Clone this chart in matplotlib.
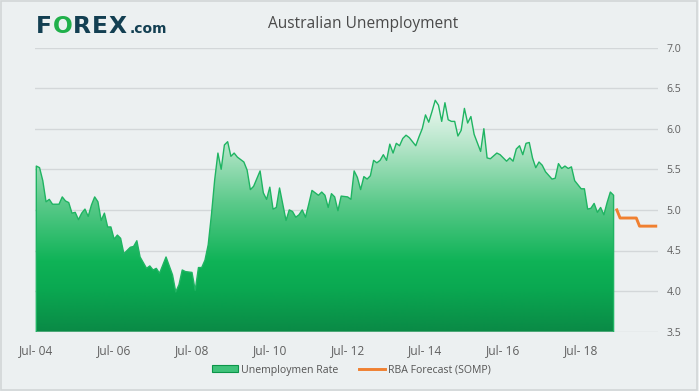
import numpy as np
import matplotlib
matplotlib.use("Agg")
import matplotlib.pyplot as plt
from matplotlib.colors import LinearSegmentedColormap
from matplotlib.patches import Patch, Rectangle
from matplotlib.lines import Line2D

# ---- data (months since Jul 2004) ----
months = [0, 1, 2, 3, 4, 5, 7, 8, 9, 10, 11, 12, 13, 14, 15, 16, 17, 18, 19, 20,
          21, 22, 23, 24, 25, 26, 27, 29, 30, 31, 32, 34, 35, 36, 37, 38, 40, 42, 43, 44,
          45, 46, 48, 49, 50, 51, 52, 53, 54, 55, 56, 57, 58, 59, 60, 61, 62, 64, 65, 66,
          67, 69, 70, 71, 72, 73, 74, 75, 77, 78, 79, 80, 81, 82, 83, 84, 85, 86, 87, 88,
          89, 90, 91, 92, 93, 94, 96, 97, 98, 99, 100, 101, 102, 103, 104, 105, 106, 107, 108, 109,
          110, 111, 112, 113, 114, 115, 117, 118, 119, 120, 121, 122, 123, 124, 125, 126, 127, 128, 129, 130,
          131, 132, 133, 134, 135, 137, 138, 139, 140, 142, 143, 144, 145, 146, 147, 148, 149, 150, 151, 152,
          153, 154, 155, 156, 157, 159, 160, 161, 162, 163, 164, 165, 166, 167, 168, 169, 170, 171, 172, 173,
          174, 175, 176, 177, 178]
unemployment = [5.54, 5.52, 5.36, 5.10, 5.13, 5.07, 5.07, 5.16, 5.11, 5.09, 4.96, 4.97, 4.88, 4.96, 5.01, 4.92, 5.06, 5.16, 5.10, 4.87,
                4.96, 4.79, 4.79, 4.64, 4.69, 4.65, 4.46, 4.54, 4.55, 4.62, 4.42, 4.28, 4.31, 4.26, 4.28, 4.22, 4.42, 4.20, 3.99, 4.08,
                4.26, 4.24, 4.23, 4.01, 4.29, 4.29, 4.38, 4.57, 4.94, 5.37, 5.70, 5.50, 5.80, 5.84, 5.66, 5.70, 5.65, 5.59, 5.49, 5.25,
                5.29, 5.48, 5.21, 5.13, 5.28, 5.01, 5.03, 5.27, 4.87, 5.00, 4.98, 4.91, 4.94, 5.00, 4.91, 5.07, 5.24, 5.21, 5.18, 5.22,
                5.18, 5.03, 5.20, 5.16, 4.99, 5.17, 5.16, 5.13, 5.48, 5.40, 5.25, 5.41, 5.38, 5.42, 5.61, 5.58, 5.61, 5.68, 5.61, 5.81,
                5.70, 5.82, 5.79, 5.88, 5.92, 5.89, 5.79, 5.90, 6.00, 6.17, 6.08, 6.21, 6.35, 6.29, 6.09, 6.32, 6.11, 6.09, 6.09, 5.91,
                5.98, 6.25, 6.07, 6.15, 5.93, 5.72, 6.00, 5.64, 5.63, 5.70, 5.68, 5.64, 5.60, 5.64, 5.60, 5.75, 5.79, 5.68, 5.82, 5.83,
                5.64, 5.52, 5.59, 5.55, 5.47, 5.38, 5.39, 5.57, 5.51, 5.54, 5.51, 5.53, 5.36, 5.31, 5.26, 5.26, 5.01, 5.02, 5.08, 4.97,
                5.03, 4.94, 5.09, 5.22, 5.18]

forecast_months = [179, 180, 181, 182, 183, 184, 185, 186, 187, 188, 189, 190, 191]
forecast_rate = [5.0, 4.9, 4.9, 4.9, 4.9, 4.9, 4.9, 4.8, 4.8, 4.8, 4.8, 4.8, 4.8]

tick_months = [0, 24, 48, 72, 96, 120, 144, 168]
tick_labels = ["Jul- 04", "Jul- 06", "Jul- 08", "Jul- 10", "Jul- 12", "Jul- 14", "Jul- 16", "Jul- 18"]
y_ticks = [3.5, 4.0, 4.5, 5.0, 5.5, 6.0, 6.5, 7.0]

title = "Australian Unemployment"
series_names = ["Unemploymen Rate", "RBA Forecast (SOMP)"]

# ---- style ----
BG = "#ecf0f1"
GRID = "#d3d7d9"
TXT = "#606060"
LINE_GREEN = "#1fb462"
ORANGE = "#f08030"
FONT = ["Open Sans", "DejaVu Sans"]

W, H = 699, 391
fig = plt.figure(figsize=(W / 100, H / 100), dpi=100, facecolor=BG)
ax = fig.add_axes([35.3 / W, (H - 331.7) / H, (657.7 - 35.3) / W, (331.7 - 47.5) / H])
ax.set_facecolor(BG)

XMIN, XMAX = -0.31, 191.6
YMIN, YMAX = 3.5, 7.0

# gridlines
ax.set_yticks(y_ticks)
ax.set_yticklabels([f"{v:.1f}" for v in y_ticks], fontfamily=FONT, fontsize=7.6, color=TXT)
ax.yaxis.grid(True, color=GRID, lw=1.0, zorder=0)
ax.set_axisbelow(True)
ax.yaxis.tick_right()
ax.tick_params(axis="y", length=0, pad=6.5)
for lab in ax.get_yticklabels():
    lab.set_horizontalalignment("left")

ax.set_xticks(tick_months)
ax.set_xticklabels(tick_labels, fontfamily=FONT, fontsize=8.6, color=TXT)
ax.tick_params(axis="x", length=0, pad=9)

for s in ax.spines.values():
    s.set_visible(False)

# gradient filled area
x = np.array(months, dtype=float)
y = np.array(unemployment)
poly = ax.fill_between(x, YMIN, y, facecolor="none", edgecolor="none", zorder=2)
cmap = LinearSegmentedColormap.from_list(
    "g",
    [(0.0, "#0a8a46"), (0.18, "#0aa851"), (0.30, "#0fb357"),
     (0.55, "#5cca8b"), (0.78, "#b1e4c6"), (1.0, "#f6fbf8")])
grad = np.linspace(YMIN, 6.4, 256).reshape(-1, 1)
im = ax.imshow(grad, extent=(x[0], x[-1], YMIN, 6.4), origin="lower",
               aspect="auto", cmap=cmap, zorder=2, interpolation="bilinear")
im.set_clip_path(poly.get_paths()[0], transform=ax.transData)

# outline of area (line plus vertical edges)
ax.plot(np.concatenate([[x[0]], x, [x[-1]]]), np.concatenate([[YMIN], y, [YMIN]]),
        color=LINE_GREEN, lw=1.0, zorder=3, solid_joinstyle="round")

# forecast line
ax.plot(forecast_months, forecast_rate, color=ORANGE, lw=2.1, zorder=3)

ax.set_xlim(XMIN, XMAX)
ax.set_ylim(YMIN, YMAX)

# ---- header: logo + title ----
renderer = fig.canvas.get_renderer()
base_y = (H - 33.3) / H
xpos = 35.7 / W
for part, col in [("F", "#133f52"), ("O", "#20b04b"), ("R", "#133f52"), ("E", "#133f52"), ("X", "#133f52")]:
    t = fig.text(xpos, base_y, part, fontsize=16.8, fontweight="heavy", color=col,
                 family="DejaVu Sans", va="baseline", ha="left")
    bb = t.get_window_extent(renderer)
    xpos = (bb.x1 + 0.8) / W
fig.text(xpos + 2.5 / W, base_y, ".com", fontsize=10, fontweight="bold", color="#133f52",
         family="DejaVu Sans", va="baseline", ha="left")

fig.text(268.3 / W, (H - 28) / H, title, fontsize=11.2, color="#4a4a4a",
         family=FONT, va="baseline", ha="left")

# ---- legend ----
handles = [Patch(facecolor="#3fc27a", edgecolor="#0b9549", lw=0.8),
           Line2D([0], [0], color=ORANGE, lw=2.1)]
leg = fig.legend(handles, series_names, loc="center", bbox_to_anchor=(351.4 / W, (H - 370) / H),
                 ncol=2, frameon=False, handlelength=2.5, handleheight=0.6,
                 handletextpad=0.3, columnspacing=1.9,
                 prop={"family": FONT, "size": 7.6})
for t in leg.get_texts():
    t.set_color("#555555")

# outer border
fig.patches.append(Rectangle((0.5 / W, 1.0 / H), 696.5 / W, 389.5 / H, transform=fig.transFigure,
                             fill=False, edgecolor="#d2d6d7", lw=1.2))

fig.savefig("out.png", dpi=100, facecolor=BG)
